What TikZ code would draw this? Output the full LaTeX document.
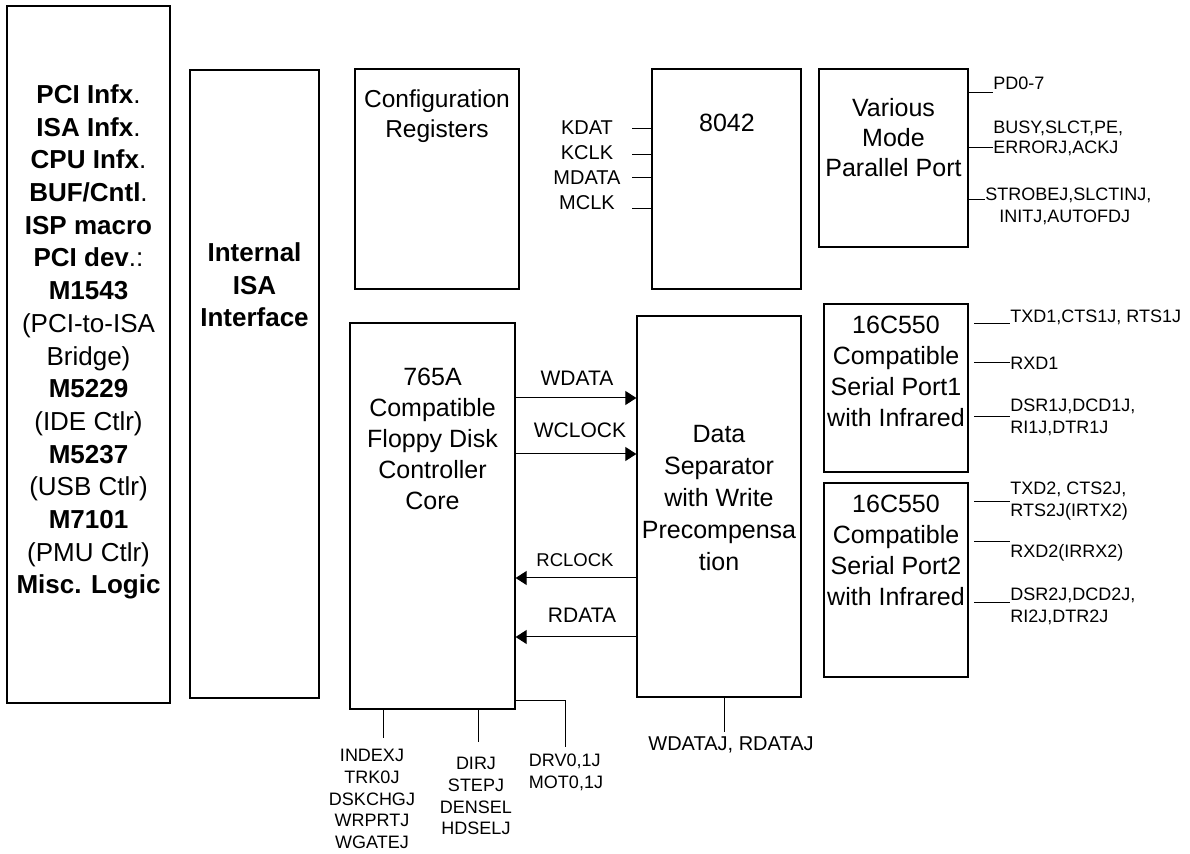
\documentclass[tikz,border=0pt]{standalone}
\usepackage{fontspec}
\setmainfont{Liberation Sans}
\usetikzlibrary{fit,arrows.meta}
\begin{document}
\begin{tikzpicture}[x=0.5pt,y=-0.5pt,
  box/.style={draw, line width=0.65pt, inner sep=0pt},
  txt/.style={inner sep=0pt, align=center},
  big/.style={txt, font=\fontsize{12.5}{15.5}\selectfont},
  bigb/.style={txt, font=\fontsize{13}{16.35}\selectfont},
  mid/.style={txt, font=\fontsize{10}{12.5}\selectfont},
  sml/.style={inner sep=0pt, align=left, font=\fontsize{9}{11}\selectfont},
  smc/.style={txt, font=\fontsize{9}{10.9}\selectfont},
  wire/.style={line width=0.5pt},
  arr/.style={line width=0.5pt, -{Triangle[length=5.5pt,width=7pt]}}]
\useasboundingbox (0,0) rectangle (1190,854);

% functional blocks
\node[box, fit={(7,6)(170,703)}] (pci) {};
\node[box, fit={(190,70)(319,698)}] (isa) {};
\node[box, fit={(355,69)(519,289)}] (cfg) {};
\node[box, fit={(652,69)(801,289)}] (kbc) {};
\node[box, fit={(819,69)(968,247)}] (par) {};
\node[box, fit={(824,304)(968,472)}] (ser1) {};
\node[box, fit={(824,483)(968,677)}] (ser2) {};
\node[box, fit={(350,323)(515,709)}] (fdc) {};
\node[box, fit={(637,316)(801,697)}] (dsep) {};

% block titles
\node[bigb] (pcitext) at (88.5,342) {\textbf{PCI Infx}.\\ \textbf{ISA Infx}.\\ \textbf{CPU Infx}.\\ \textbf{BUF/Cntl}.\\ \textbf{ISP macro}\\ \textbf{PCI dev}.:\\ \textbf{M1543}\\ (PCI-to-ISA\\ Bridge)\\ \textbf{M5229}\\ (IDE Ctlr)\\ \textbf{M5237}\\ (USB Ctlr)\\ \textbf{M7101}\\ (PMU Ctlr)\\ \textbf{Misc. Logic}};
\node[bigb, font=\bfseries\fontsize{13}{16.25}\selectfont] (isatext) at (254.5,285) {Internal\\ ISA\\ Interface};
\node[big, font=\fontsize{12.25}{15}\selectfont] (cfgtext) at (437,116) {Configuration\\ Registers};
\node[big] (kbctext) at (727,123) {8042};
\node[big, font=\fontsize{12.5}{15}\selectfont] (partext) at (893.5,138) {Various\\ Mode\\ Parallel Port};
\node[big] (ser1text) at (896,371) {16C550\\ Compatible\\ Serial Port1\\ with Infrared};
\node[big] (ser2text) at (896,550) {16C550\\ Compatible\\ Serial Port2\\ with Infrared};
\node[big] (fdctext) at (432.5,439) {765A\\ Compatible\\ Floppy Disk\\ Controller\\ Core};
\node[big, font=\fontsize{12.5}{15.9}\selectfont] (dseptext) at (719,498) {Data\\ Separator\\ with Write\\ Precompensa\\ tion};

% keyboard / mouse pins of the 8042
\node[mid] (kbdpins) at (587,165) {KDAT\\ KCLK\\ MDATA\\ MCLK};
\foreach \yy in {129,155,178,209}
  \draw[wire] (kbc.west |- 0,\yy) -- ++(-19,0);

% parallel port pins
\node[sml, anchor=west] (pd) at (993,83) {PD0-7};
\draw[wire] (par.east |- 0,93) -- (993,93);
\node[sml, anchor=west, font=\fontsize{9}{10}\selectfont] (busy) at (993,138) {BUSY,SLCT,PE,\\ERRORJ,ACKJ};
\draw[wire] (par.east |- 0,148) -- (busy.west |- 0,148);
\node[sml, anchor=west] (strobe) at (985,206.5) {STROBEJ,SLCTINJ,\\\hspace*{7pt}INITJ,AUTOFDJ};
\draw[wire] (par.east |- 0,200) -- (strobe.west |- 0,200);

% serial port 1 pins
\node[sml, anchor=west] (txd1) at (1010,317) {TXD1,CTS1J, RTS1J};
\draw[wire] (974,324) -- (txd1.west |- 0,324);
\node[sml, anchor=west] (rxd1) at (1010,363) {RXD1};
\draw[wire] (974,363) -- (rxd1.west);
\node[sml, anchor=west] (dsr1) at (1010,417) {DSR1J,DCD1J,\\RI1J,DTR1J};
\draw[wire] (974,417) -- (dsr1.west);

% serial port 2 pins
\node[sml, anchor=west] (txd2) at (1010,501) {TXD2, CTS2J,\\RTS2J(IRTX2)};
\draw[wire] (974,502) -- (txd2.west |- 0,502);
\node[sml, anchor=west] (rxd2) at (1010,553) {RXD2(IRRX2)};
\draw[wire] (974,542) -- (rxd2.west |- 0,542);
\node[sml, anchor=west] (dsr2) at (1010,606) {DSR2J,DCD2J,\\RI2J,DTR2J};
\draw[wire] (974,603) -- (dsr2.west |- 0,603);

% floppy controller <-> data separator
\node[mid, font=\fontsize{10.5}{12}\selectfont] (wdata) at (577,378) {WDATA};
\draw[arr] (fdc.east |- 0,398) -- (dsep.west |- 0,398);
\node[mid, font=\fontsize{10.5}{12}\selectfont] (wclock) at (580,430) {WCLOCK};
\draw[arr] (fdc.east |- 0,454) -- (dsep.west |- 0,454);
\node[mid, font=\fontsize{9.25}{11}\selectfont] (rclock) at (575,560) {RCLOCK};
\draw[arr] (dsep.west |- 0,578) -- (fdc.east |- 0,578);
\node[mid, font=\fontsize{10.5}{12}\selectfont] (rdata) at (582,615) {RDATA};
\draw[arr] (dsep.west |- 0,637) -- (fdc.east |- 0,637);

% drive interface pins
\node[smc] (drvin) at (372,799) {INDEXJ\\ TRK0J\\ DSKCHGJ\\ WRPRTJ\\ WGATEJ};
\draw[wire] (fdc.south -| 383,0) -- (383,738);
\node[smc] (drvout) at (476,796) {DIRJ\\ STEPJ\\ DENSEL\\ HDSELJ};
\draw[wire] (fdc.south -| 478,0) -- (478,742);
\node[sml] (drvsel) at (566,772) {DRV0,1J\\ MOT0,1J};
\draw[wire] (fdc.east |- 0,701) -- (565,701) -- (565,747);
\node[mid] (rwdata) at (731,745) {WDATAJ, RDATAJ};
\draw[wire] (dsep.south -| 724,0) -- (724,732);
\end{tikzpicture}
\end{document}
